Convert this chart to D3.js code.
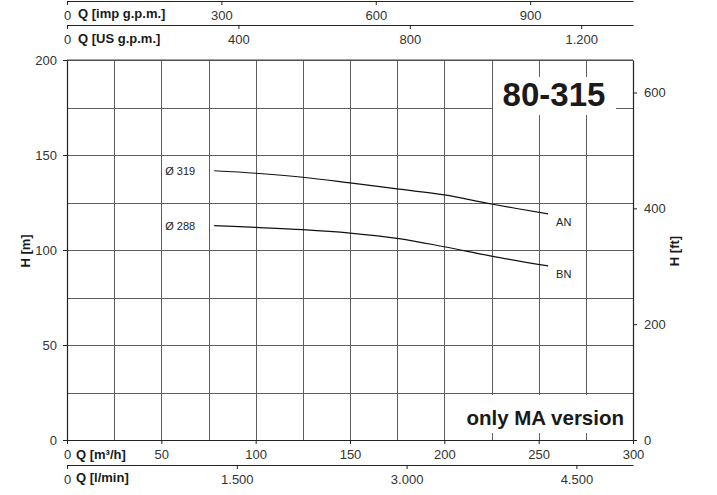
<!DOCTYPE html>
<html>
<head>
<meta charset="utf-8">
<script src="https://cdnjs.cloudflare.com/ajax/libs/d3/7.8.5/d3.min.js"></script>
<style>
  body { margin: 0; background: #fff; }
  svg { display: block; font-family: "Liberation Sans", Arial, sans-serif; }
</style>
</head>
<body>
<script>
// pump curve 80-315 (Q in m3/h, H in m)
var curveNames = ["AN", "BN"];
var impellers = ["Ø 319", "Ø 288"];
var flowAN = [78, 100, 125, 150, 176, 200, 225, 255];
var headAN = [141.7, 140.4, 138.3, 135.3, 132, 129, 124.2, 119];
var flowBN = [78, 100, 125, 150, 176, 200, 225, 255];
var headBN = [112.8, 111.9, 110.7, 108.9, 106, 101.7, 96.8, 91.6];

// tick labels for each axis
var ticksM3h = [0, 50, 100, 150, 200, 250, 300];
var ticksLmin = [0, 1500, 3000, 4500];
var ticksImp = [0, 300, 600, 900];
var ticksUS = [0, 400, 800, 1200];
var ticksHm = [0, 50, 100, 150, 200];
var ticksHft = [0, 200, 400, 600];

var width = 717, height = 495;
var plot = { left: 67, right: 633, top: 60, bottom: 440 };

var svg = d3.select("body").append("svg")
  .attr("width", width)
  .attr("height", height);

// main scales
var x = d3.scaleLinear().domain([0, 300]).range([plot.left, plot.right]);
var y = d3.scaleLinear().domain([0, 200]).range([plot.bottom, plot.top]);

// unit conversions for the other axes
var xImp = d3.scaleLinear().domain([0, 300 / 0.2727654]).range([plot.left, plot.right]);
var xUS = d3.scaleLinear().domain([0, 300 / 0.2271247]).range([plot.left, plot.right]);
var xLmin = d3.scaleLinear().domain([0, 300 / 0.06]).range([plot.left, plot.right]);
var yFt = d3.scaleLinear().domain([0, 200 / 0.3048]).range([plot.bottom, plot.top]);

var fmt = d3.formatLocale({ decimal: ",", thousands: ".", grouping: [3], currency: ["", ""] }).format(",");

// grid
var grid = svg.append("g").attr("stroke", "#5e5e5e").attr("stroke-width", 1);
d3.range(25, 300, 25).forEach(function(v) {
  grid.append("line")
    .attr("x1", Math.round(x(v)) + 0.5).attr("x2", Math.round(x(v)) + 0.5)
    .attr("y1", plot.top).attr("y2", plot.bottom);
});
d3.range(25, 225, 25).forEach(function(v) {
  grid.append("line")
    .attr("x1", plot.left).attr("x2", plot.right)
    .attr("y1", Math.round(y(v)) + 0.5).attr("y2", Math.round(y(v)) + 0.5);
});

// white boxes behind the two big labels
svg.append("rect").attr("x", 493).attr("y", 77).attr("width", 123).attr("height", 38).attr("fill", "#fff");
svg.append("rect").attr("x", 455).attr("y", 395).attr("width", 177).attr("height", 38).attr("fill", "#fff");

// helper to style an axis
function styleAxis(g, size) {
  g.selectAll("path").attr("stroke", "#222").attr("stroke-width", 1.2);
  g.selectAll("line").attr("stroke", "#222");
  g.selectAll("text").attr("fill", "#333").style("font-size", size + "px").style("font-family", "Liberation Sans, Arial, sans-serif");
}

// bottom m3/h axis
var gx = svg.append("g")
  .attr("transform", "translate(0," + plot.bottom + ")")
  .call(d3.axisBottom(x).tickValues(ticksM3h).tickSizeInner(4).tickSizeOuter(0).tickPadding(6).tickFormat(fmt));
styleAxis(gx, 13);

// bottom l/min axis
var gl = svg.append("g")
  .attr("transform", "translate(0,465)")
  .call(d3.axisBottom(xLmin).tickValues(ticksLmin).tickSizeInner(4).tickSizeOuter(0).tickPadding(6).tickFormat(fmt));
styleAxis(gl, 13);

// top imp gpm axis
var gi = svg.append("g")
  .attr("transform", "translate(0,1)")
  .call(d3.axisBottom(xImp).tickValues(ticksImp).tickSizeInner(4).tickSizeOuter(0).tickPadding(6).tickFormat(fmt));
styleAxis(gi, 13);

// top US gpm axis
var gu = svg.append("g")
  .attr("transform", "translate(0,25)")
  .call(d3.axisBottom(xUS).tickValues(ticksUS).tickSizeInner(4).tickSizeOuter(0).tickPadding(6).tickFormat(fmt));
styleAxis(gu, 13);

// left H [m] axis
var gy = svg.append("g")
  .attr("transform", "translate(" + plot.left + ",0)")
  .call(d3.axisLeft(y).tickValues(ticksHm).tickSizeInner(4).tickSizeOuter(0).tickPadding(6));
styleAxis(gy, 13);

// right H [ft] axis
var gf = svg.append("g")
  .attr("transform", "translate(" + plot.right + ",0)")
  .call(d3.axisRight(yFt).tickValues(ticksHft).tickSizeInner(4).tickSizeOuter(0).tickPadding(7));
styleAxis(gf, 13);

// top border of the plot
svg.append("line")
  .attr("x1", plot.left).attr("x2", plot.right)
  .attr("y1", plot.top).attr("y2", plot.top)
  .attr("stroke", "#444");

// axis titles
var bold = { "font-weight": "bold", "font-size": "13px", "fill": "#1a1a1a" };
function boldText(tx, ty, txt) {
  var t = svg.append("text").attr("x", tx).attr("y", ty).text(txt);
  Object.keys(bold).forEach(function(k) { t.style(k, bold[k]); });
  return t;
}
boldText(78, 18, "Q [imp g.p.m.]");
boldText(78, 43, "Q [US g.p.m.]");
boldText(76, 459, "Q [m³/h]");
boldText(76, 482, "Q [l/min]");
boldText(0, 0, "H [m]").attr("text-anchor", "middle")
  .attr("transform", "translate(30,251) rotate(-90)");
boldText(0, 0, "H [ft]").attr("text-anchor", "middle")
  .attr("transform", "translate(679,251) rotate(-90)");

// the curves
var line = d3.line()
  .x(function(d) { return x(d[0]); })
  .y(function(d) { return y(d[1]); })
  .curve(d3.curveCatmullRom);

var series = [d3.zip(flowAN, headAN), d3.zip(flowBN, headBN)];
series.forEach(function(pts, i) {
  svg.append("path")
    .datum(pts)
    .attr("fill", "none")
    .attr("stroke", "#111")
    .attr("stroke-width", 1.2)
    .attr("d", line);

  var first = pts[0], last = pts[pts.length - 1];
  svg.append("text")
    .attr("x", x(first[0]) - 49).attr("y", y(first[1]) + 4)
    .style("font-size", "11px").attr("fill", "#222")
    .text(impellers[i]);
  svg.append("text")
    .attr("x", x(last[0]) + 8).attr("y", y(last[1]) + 12)
    .style("font-size", "11px").attr("fill", "#222")
    .text(curveNames[i]);
});

// model name and note
svg.append("text")
  .attr("x", 554).attr("y", 106)
  .attr("text-anchor", "middle")
  .style("font-size", "33px").style("font-weight", "bold").attr("fill", "#1a1a1a")
  .text("80-315");

svg.append("text")
  .attr("x", 624).attr("y", 425)
  .attr("text-anchor", "end")
  .style("font-size", "20.5px").style("font-weight", "bold").attr("fill", "#1a1a1a")
  .text("only MA version");
</script>
</body>
</html>
